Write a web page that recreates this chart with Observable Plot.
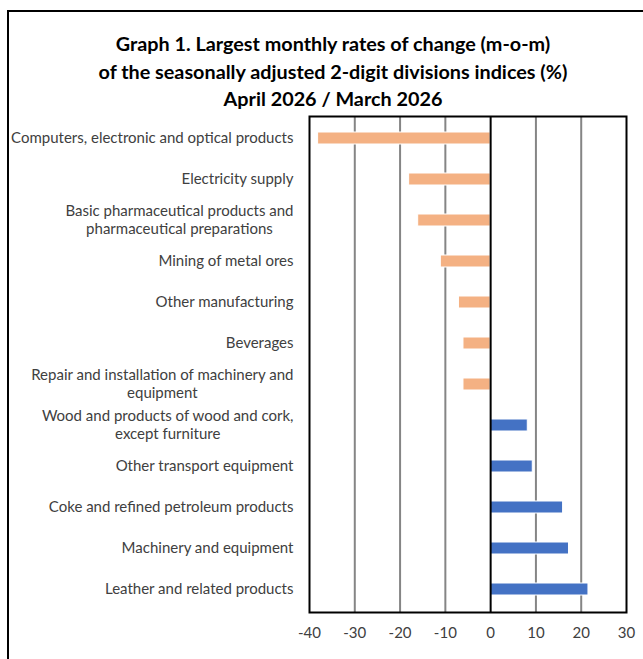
<!DOCTYPE html>
<html>
<head>
<meta charset="utf-8">
<script src="https://cdn.jsdelivr.net/npm/d3@7"></script>
<script src="https://cdn.jsdelivr.net/npm/@observablehq/plot@0.6"></script>
<style>
  html, body { margin: 0; padding: 0; background: #fff; overflow: hidden; }
  #wrap { position: relative; width: 643px; height: 659px; }
  #border { position: absolute; left: 7px; top: 10px; width: 700px; height: 700px; border: 2px solid #000; box-sizing: border-box; }
  #title { position: absolute; left: 0; top: 30px; width: 666px; text-align: center; font-family: Lato, sans-serif; font-weight: bold; font-size: 19.8px; line-height: 27.5px; color: #000; }
  #chart { position: absolute; left: 0; top: 0; }
</style>
</head>
<body>
<div id="wrap">
  <div id="border"></div>
  <div id="title">Graph 1. Largest monthly rates of change (m-o-m)<br>of the seasonally adjusted 2-digit divisions indices (%)<br>April 2026 / March 2026</div>
  <div id="chart"></div>
</div>
<script>
const categories = [
  "Computers, electronic and optical products",
  "Electricity supply",
  "Basic pharmaceutical products and\npharmaceutical preparations",
  "Mining of metal ores",
  "Other manufacturing",
  "Beverages",
  "Repair and installation of machinery and\nequipment",
  "Wood and products of wood and cork,\nexcept furniture",
  "Other transport equipment",
  "Coke and refined petroleum products",
  "Machinery and equipment",
  "Leather and related products"
];
const values = [-38.1, -18.0, -16.0, -11.0, -7.0, -6.0, -6.0, 8.2, 9.3, 16.0, 17.3, 21.6];
const xTicks = [-40, -30, -20, -10, 0, 10, 20, 30];
const gridTicks = [-30, -20, -10, 10, 20];

const data = categories.map((c, i) => ({category: c, value: values[i]}));

const chart = Plot.plot({
  width: 643,
  height: 659,
  marginLeft: 309,
  marginRight: 17,
  marginTop: 116,
  marginBottom: 47,
  style: {fontFamily: "Lato, sans-serif", fontSize: "15px", color: "#404040", background: "transparent"},
  x: {domain: [-40, 30], label: null},
  y: {domain: categories, paddingInner: 0.7, paddingOuter: 0.35, label: null},
  marks: [
    Plot.ruleX(gridTicks, {stroke: "#858585", strokeWidth: 2}),
    Plot.barX(data, {x: "value", y: "category", fill: d => d.value < 0 ? "#F4B183" : "#4472C4", stroke: "#fff", strokeWidth: 1}),
    Plot.ruleX([0], {stroke: "#000", strokeWidth: 2}),
    Plot.frame({stroke: "#000", strokeWidth: 2}),
    Plot.axisX({ticks: xTicks, tickFormat: d => String(d), tickSize: 0, tickPadding: 15, label: null, fill: "#404040"}),
    Plot.axisY({tickSize: 0, tickPadding: 16, dy: -1.5, label: null, lineHeight: 1.2, fill: "#404040"})
  ]
});
document.getElementById("chart").appendChild(chart);

// center multi-line category labels like the original
chart.querySelectorAll("text").forEach(t => {
  const spans = t.querySelectorAll("tspan");
  if (spans.length > 1) {
    let maxW = 0;
    spans.forEach(s => { maxW = Math.max(maxW, s.getComputedTextLength()); });
    t.setAttribute("text-anchor", "middle");
    spans.forEach(s => s.setAttribute("x", -maxW / 2));
  }
});
</script>
</body>
</html>
